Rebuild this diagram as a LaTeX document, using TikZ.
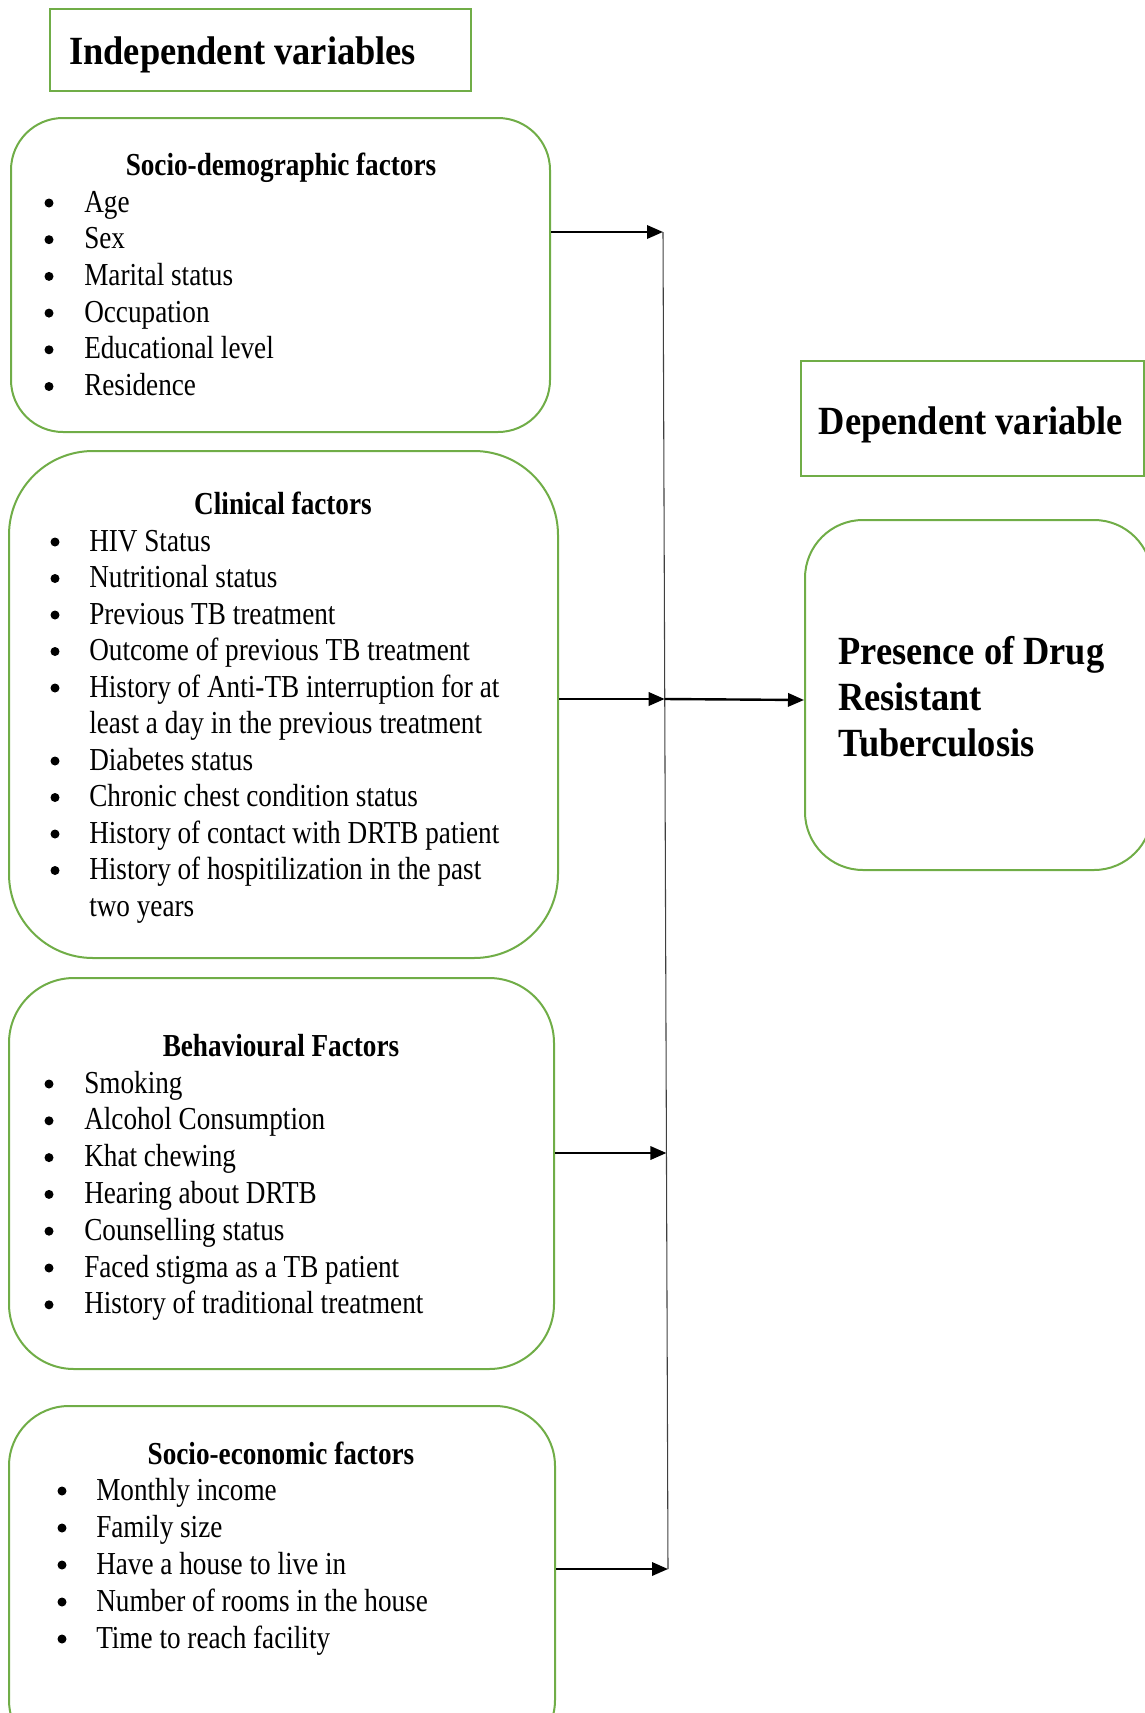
\documentclass[tikz,border=0pt]{standalone}
\usepackage{fontspec}
\setmainfont{Liberation Serif}
\newfontfamily\smallf{Liberation Serif}[FakeStretch=0.85]
\newfontfamily\bigf{Liberation Serif}[FakeStretch=0.91]
\usetikzlibrary{arrows.meta}
\definecolor{grn}{RGB}{112,173,71}
\newdimen\px \px=0.75pt
\newcommand{\itm}[5]{\node[bul] (#1b) at (#2,#4-9) {}; \node[itx] (#1t) at (#3,#4) {#5};}
\begin{document}
\begin{tikzpicture}[x=0.75pt,y=-0.75pt,
 gbox/.style={draw=grn, line width=1.5pt, rectangle, inner sep=0pt},
 bul/.style={circle, fill=black, inner sep=0pt, minimum size=9\px},
 itx/.style={anchor=base west, inner sep=0pt, font=\smallf\fontsize{24pt}{28pt}\selectfont},
 ttl/.style={anchor=base, inner sep=0pt, font=\smallf\bfseries\fontsize{24pt}{28pt}\selectfont},
 big/.style={anchor=base west, inner sep=0pt, font=\bigf\bfseries\fontsize{30pt}{34pt}\selectfont},
 arr/.style={line width=1.8pt, -{Triangle[length=12pt,width=10pt]}},
 vline/.style={line width=0.8pt, draw=black!75}]
\useasboundingbox (0,0) rectangle (1145,1713);
\clip (0,0) rectangle (1145,1713);

% boxes
\node[gbox, minimum width=421\px, minimum height=82\px] (indep) at (260.5,50) {};
\node[gbox, rounded corners=52\px, minimum width=539\px, minimum height=314\px] (sd) at (280.5,275) {};
\node[gbox, rounded corners=84\px, minimum width=549\px, minimum height=507\px] (clin) at (283.5,704.5) {};
\node[gbox, rounded corners=65\px, minimum width=545\px, minimum height=391\px] (beh) at (281.5,1173.5) {};
\node[gbox, rounded corners=60\px, minimum width=546\px, minimum height=354\px] (se) at (282,1583) {};
\node[gbox, minimum width=343\px, minimum height=115\px] (dep) at (972.5,418.5) {};
\node[gbox, rounded corners=58\px, minimum width=347\px, minimum height=350\px] (pres) at (978.5,695) {};

% headings
\node[big] (indept) at (69,64) {Independent variables};
\node[big, anchor=base] (dept) at (971,434) {Dependent variable};
\node[big] (pres1) at (838,664) {Presence of Drug};
\node[big] (pres2) at (838,710) {Resistant};
\node[big] (pres3) at (838,756) {Tuberculosis};

% socio-demographic
\node[ttl] (sdt) at (281,175) {Socio-demographic factors};
\itm{sda}{49}{84}{212}{Age}
\itm{sdb}{49}{84}{248.7}{Sex}
\itm{sdc}{49}{84}{285.4}{Marital status}
\itm{sdd}{49}{84}{322.1}{Occupation}
\itm{sde}{49}{84}{358.8}{Educational level}
\itm{sdf}{49}{84}{395.5}{Residence}

% clinical
\node[ttl] (clt) at (283,514) {Clinical factors};
\itm{cla}{55}{89}{551}{HIV Status}
\itm{clb}{55}{89}{587.5}{Nutritional status}
\itm{clc}{55}{89}{624}{Previous TB treatment}
\itm{cld}{55}{89}{660.5}{Outcome of previous TB treatment}
\itm{cle}{55}{89}{697}{History of Anti-TB interruption for at}
\node[itx] (cle2) at (89,733.5) {least a day in the previous treatment};
\itm{clf}{55}{89}{770}{Diabetes status}
\itm{clg}{55}{89}{806.5}{Chronic chest condition status}
\itm{clh}{55}{89}{843}{History of contact with DRTB patient}
\itm{cli}{55}{89}{879.5}{History of hospitilization in the past}
\node[itx] (cli2) at (89,916) {two years};

% behavioural
\node[ttl] (beht) at (281,1056) {Behavioural Factors};
\itm{bea}{49}{84}{1093}{Smoking}
\itm{beb}{49}{84}{1129.8}{Alcohol Consumption}
\itm{bec}{49}{84}{1166.6}{Khat chewing}
\itm{bed}{49}{84}{1203.4}{Hearing about DRTB}
\itm{bee}{49}{84}{1240.2}{Counselling status}
\itm{bef}{49}{84}{1277}{Faced stigma as a TB patient}
\itm{beg}{49}{84}{1313.8}{History of traditional treatment}

% socio-economic
\node[ttl] (set) at (281,1464) {Socio-economic factors};
\itm{sea}{62}{96}{1500}{Monthly income}
\itm{seb}{62}{96}{1537}{Family size}
\itm{sec}{62}{96}{1574}{Have a house to live in}
\itm{sed}{62}{96}{1611}{Number of rooms in the house}
\itm{see}{62}{96}{1648}{Time to reach facility}

% connectors
\coordinate (vt) at (663,232);
\coordinate (vb) at (668,1569);
\coordinate (v2) at (664.7,699);
\coordinate (v4) at (666.4,1153);
\draw[vline] (vt) -- (vb);
\draw[arr] (sd.east |- vt) -- (vt);
\draw[arr] (clin.east |- v2) -- (v2);
\draw[arr] (v2) -- ([yshift=-3.75pt]pres.west);
\draw[arr] (beh.east |- v4) -- (v4);
\draw[arr] (se.east |- vb) -- (vb);
\end{tikzpicture}
\end{document}
